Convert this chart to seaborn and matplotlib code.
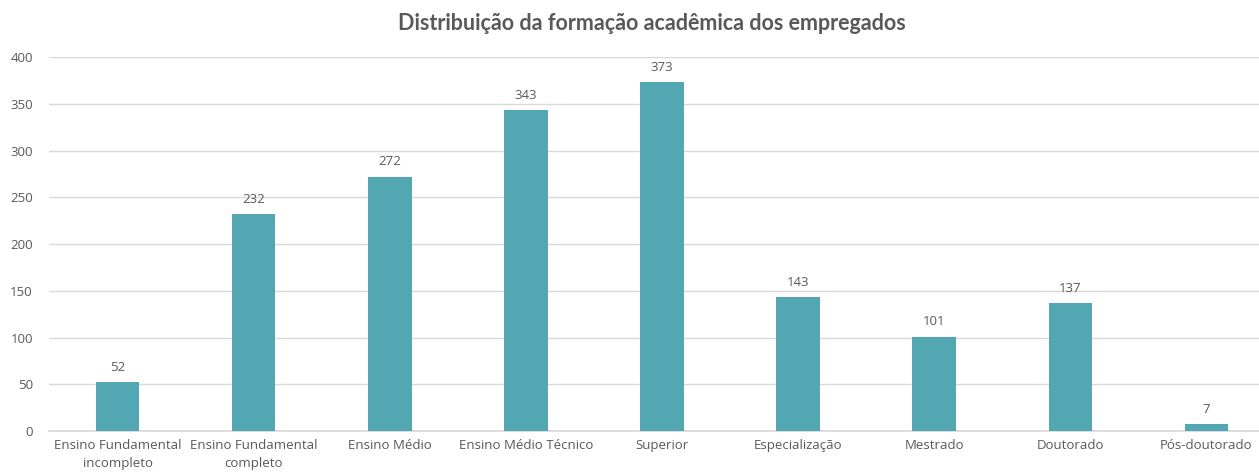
import numpy as np
import pandas as pd
import matplotlib.pyplot as plt
import seaborn as sns

# Data
categories = ["Ensino Fundamental\nincompleto", "Ensino Fundamental\ncompleto", "Ensino Médio",
              "Ensino Médio Técnico", "Superior", "Especialização", "Mestrado", "Doutorado",
              "Pós-doutorado"]
counts = [52, 232, 272, 343, 373, 143, 101, 137, 7]
y_ticks = [0, 50, 100, 150, 200, 250, 300, 350, 400]

df = pd.DataFrame({"formacao": categories, "total": counts})

sns.set_theme(style="white")
plt.rcParams['font.family'] = ['Open Sans', 'DejaVu Sans']

text_color = "#595959"
bar_color = "#52A7B3"
grid_color = "#D9D9D9"

fig = plt.figure(figsize=(12.59, 4.75), dpi=100)
ax = fig.add_axes([0.0393, 0.0926, 0.973, 0.7874])

sns.barplot(data=df, x="formacao", y="total", color=bar_color, width=0.32,
            saturation=1, linewidth=0, ax=ax, zorder=3)

# Value labels above each bar
for bar in ax.patches:
    ax.annotate(format(int(bar.get_height())), (bar.get_x() + bar.get_width() / 2, bar.get_height()),
                xytext=(0, 6), textcoords="offset points", ha="center", va="bottom",
                fontsize=9.5, color=text_color)

ax.set_ylim(0, 400)
ax.set_xlim(-0.5, len(categories) - 0.5)
ax.set_yticks(y_ticks)
ax.yaxis.grid(True, color=grid_color, linewidth=1, zorder=0)
ax.set_axisbelow(True)
for s in ["top", "right", "left"]:
    ax.spines[s].set_visible(False)
ax.spines["bottom"].set_color(grid_color)
ax.tick_params(axis="both", length=0, labelsize=9.5, colors=text_color)
ax.tick_params(axis="y", pad=12)
ax.tick_params(axis="x", pad=6)
for lbl in ax.get_xticklabels():
    lbl.set_linespacing(1.45)
ax.set_xlabel("")
ax.set_ylabel("")

fig.text(0.518, 0.95, "Distribuição da formação acadêmica dos empregados", ha="center", va="center",
         fontsize=15.5, fontweight="bold", color=text_color, family=["Lato", "DejaVu Sans"])

fig.savefig("out.png", dpi=100, facecolor="white")
